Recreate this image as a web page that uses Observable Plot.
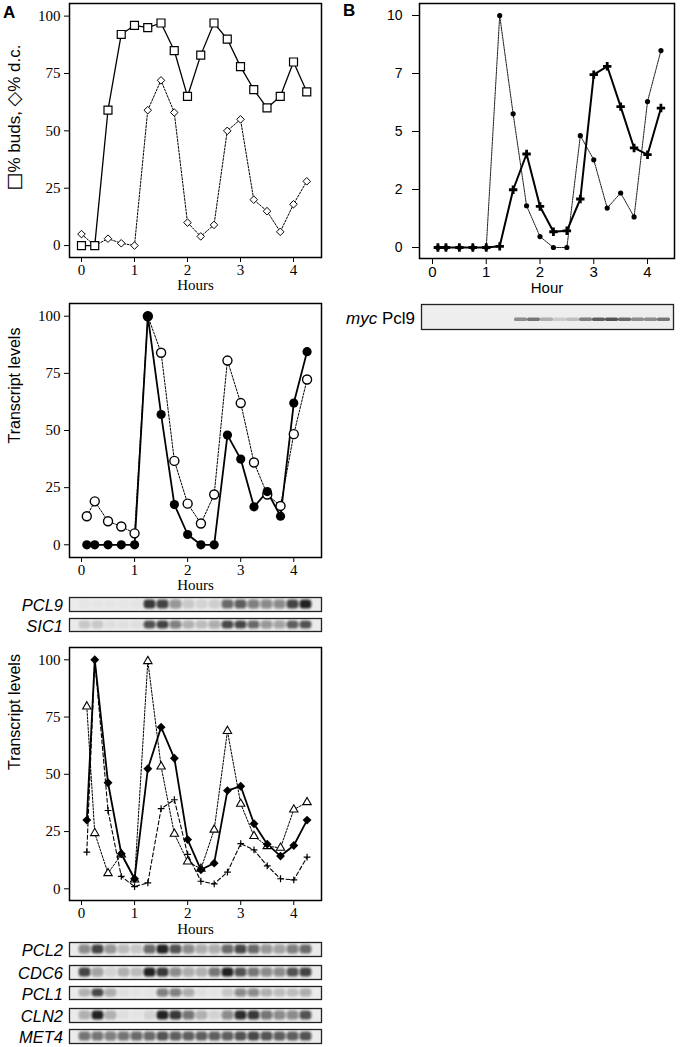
<!DOCTYPE html>
<html><head><meta charset="utf-8">
<script src="https://cdn.jsdelivr.net/npm/d3@7"></script>
<script src="https://cdn.jsdelivr.net/npm/@observablehq/plot@0.6"></script>
<style>
body{margin:0;background:#fff;}
#fig{position:relative;width:684px;height:1047px;overflow:hidden;background:#fff;}
.lab{position:absolute;font-family:"Liberation Sans",Arial,Helvetica,sans-serif;color:#000;white-space:nowrap;line-height:1;}
.sym{font-family:"DejaVu Sans",sans-serif;font-size:19px;}
</style></head><body><div id="fig"></div>
<script>
// ---------- data ----------
const hoursBud = [0,0.25,0.5,0.75,1,1.25,1.5,1.75,2,2.25,2.5,2.75,3,3.25,3.5,3.75,4,4.25];
const hoursT   = [0.1,0.25,0.5,0.75,1,1.25,1.5,1.75,2,2.25,2.5,2.75,3,3.25,3.5,3.75,4,4.25];
const hourTicks = [0,1,2,3,4];
const pctTicks = [0,25,50,75,100];

const budsPct = [0,0,59,92,96,95,97,85,65,83,97,90,78,68,60,65,80,67];
const dcPct   = [5,0,3,1,0,59,72,58,10,4,9,50,55,20,15,6,18,28];

const pcl9Level = [0,0,0,0,0,100,57,17.6,4.5,0,0,48,37.5,16.6,23.3,12.5,62,84.5];   // filled circles
const sic1Level = [12.5,19,10.3,8,5,100,84,36.7,18,9.3,22,80.6,62,36,22,17,48.4,72.3]; // open circles

const diamondLevel  = [30,100,46.3,15.3,4.4,52.4,70.6,57,21.5,8.3,11.2,42.9,44.8,28.4,19.5,14.3,18.9,30];
const triangleLevel = [79.6,24.3,6.8,15,4,99.4,53.4,24,11.9,8.7,25.8,68.9,37.1,23,18.6,17.9,34.6,37.8];
const crossLevel    = [16,100,34.2,5.4,1,2.6,35,38.9,15,3.3,2.2,7.3,19.7,17,10,4.4,3.9,13.8];

const bTicks = [0,2.5,5,7.5,10];
const bTickLabels = ["0","2","5","7","10"];
const mycProtein = [0,0,0,0,0,0.05,2.49,4.03,1.77,0.68,0.72,2.09,7.45,7.81,6.07,4.29,4.0,6.01];
const pcl9mRNA   = [0,0,0,0,0,10,5.76,1.8,0.47,0,0,4.82,3.78,1.7,2.35,1.32,6.29,8.49];

// blot band intensities (18 lanes, 0..1)
const lanes = d3.range(1,19);
const blotPCL9 = [0.02,0.02,0.02,0.02,0.03,0.85,0.8,0.4,0.15,0.1,0.12,0.6,0.65,0.5,0.45,0.45,0.8,0.95];
const blotSIC1 = [0.15,0.15,0.05,0.05,0.05,0.7,0.8,0.5,0.25,0.2,0.3,0.75,0.75,0.6,0.4,0.35,0.65,0.7];
const blotPCL2 = [0.45,0.8,0.4,0.2,0.15,0.6,0.95,0.7,0.45,0.3,0.3,0.6,0.75,0.6,0.4,0.35,0.5,0.6];
const blotCDC6 = [0.8,0.35,0.1,0.25,0.2,0.95,0.85,0.45,0.3,0.25,0.55,0.95,0.7,0.55,0.45,0.45,0.7,0.8];
const blotPCL1 = [0.25,0.75,0.3,0.05,0.03,0.03,0.5,0.5,0.3,0.05,0.03,0.15,0.45,0.45,0.25,0.2,0.2,0.3];
const blotCLN2 = [0.25,0.95,0.25,0.05,0.03,0.1,0.95,0.85,0.55,0.25,0.1,0.45,0.9,0.85,0.55,0.45,0.45,0.7];
const blotMET4 = [0.55,0.55,0.5,0.55,0.6,0.6,0.7,0.65,0.65,0.65,0.65,0.65,0.7,0.75,0.7,0.65,0.65,0.7];
const blotMyc  = [0,0,0,0,0,0,0.45,0.55,0.3,0.15,0.2,0.5,0.65,0.7,0.6,0.45,0.45,0.55];

// ---------- helpers ----------
const fig = document.getElementById("fig");
const serif = "'Liberation Serif','Times New Roman',Times,serif";
const sans = "'Liberation Sans',Arial,Helvetica,'DejaVu Sans',sans-serif";
const intFmt = d3.format("d");
function place(el, left, top){ el.style.position="absolute"; el.style.left=left+"px"; el.style.top=top+"px"; fig.appendChild(el); }
function series(hours, vals){ return hours.map((h,i)=>({h, v: vals[i]})); }
const plus = {draw(ctx, size){ const r=Math.sqrt(size/Math.PI); ctx.moveTo(-r,0); ctx.lineTo(r,0); ctx.moveTo(0,-r); ctx.lineTo(0,r); }};
function label(html, {left, top, right, size=16, italic=false, bold=false}){
  const d=document.createElement("div"); d.className="lab"; d.innerHTML=html;
  d.style.fontSize=size+"px"; if(italic) d.style.fontStyle="italic"; if(bold) d.style.fontWeight="bold";
  d.style.top=top+"px";
  if(right!==undefined){ d.style.right=(684-right)+"px"; d.style.textAlign="right"; } else d.style.left=left+"px";
  fig.appendChild(d);
  return d;
}
function vlabel(html, cx, cy, size){
  const d=label(html, {left:0, top:0, size});
  const w=d.offsetWidth, h=d.offsetHeight;
  d.style.left=(cx-w/2)+"px"; d.style.top=(cy-h/2)+"px";
  d.style.transform="rotate(-90deg)"; d.style.transformOrigin="50% 50%";
}
let blurId=0;
function blot(vals, left, top, width, height, opt={}){
  const {insetL=5.5, insetR=5.5, bandTop=2.5, bandBottom=2.5, bandLR=0.6, rx=3.5, blur=0.9, bg="#ebebeb"} = opt;
  const svg = Plot.plot({
    width, height, margin:0,
    x:{type:"band", domain:lanes, padding:0, insetLeft:insetL, insetRight:insetR, axis:null},
    opacity:{type:"identity"},
    style:{background:"transparent", overflow:"visible"},
    marks:[
      Plot.frame({fill:bg, stroke:null}),
      Plot.cell(lanes.map((l,i)=>({l, v:vals[i]})), {x:"l", fill:"#151515", fillOpacity:"v",
        insetTop:bandTop, insetBottom:bandBottom, insetLeft:bandLR, insetRight:bandLR, rx}),
      Plot.frame({stroke:"#222", strokeWidth:1.3})
    ]
  });
  const id="bl"+(blurId++);
  const s=d3.select(svg);
  s.insert("defs",":first-child").append("filter").attr("id",id)
    .attr("x","-20%").attr("y","-50%").attr("width","140%").attr("height","200%")
    .append("feGaussianBlur").attr("stdDeviation",blur);
  s.selectAll('g[aria-label="cell"]').attr("filter",`url(#${id})`);
  place(svg, left, top);
}

// ---------- Panel A top: budding ----------
const buds = series(hoursBud, budsPct), dc = series(hoursBud, dcPct);
place(Plot.plot({
  width:330, height:300, marginLeft:69, marginRight:9, marginTop:3, marginBottom:43,
  x:{domain:[-0.226,4.528]}, y:{domain:[-5.2,105.5]},
  style:{fontFamily:serif, fontSize:"15px", color:"#000", background:"transparent", overflow:"visible"},
  marks:[
    Plot.axisX({ticks:hourTicks, tickFormat:intFmt, tickSize:5, tickPadding:2, label:null}),
    Plot.axisY({ticks:pctTicks, tickFormat:intFmt, tickSize:5, tickPadding:4, label:null}),
    Plot.line(dc, {x:"h", y:"v", stroke:"#000", strokeWidth:1, strokeDasharray:"2,1.5"}),
    Plot.line(buds, {x:"h", y:"v", stroke:"#000", strokeWidth:1.3}),
    Plot.dot(dc, {x:"h", y:"v", symbol:"diamond2", r:3.4, fill:"white", stroke:"#000", strokeWidth:1}),
    Plot.dot(buds, {x:"h", y:"v", symbol:"square", r:4.5, fill:"white", stroke:"#000", strokeWidth:1.2}),
    Plot.frame({stroke:"#000", strokeWidth:1.5}),
    Plot.text(["Hours"], {text:d=>d, frameAnchor:"bottom", dy:32, fontSize:15})
  ]
}), 0, 0);
vlabel('<span class="sym">\u25A1</span>% buds, <span class="sym">\u25C7</span>% d.c.', 14, 117, 17);

// ---------- Panel B ----------
const bTickMap = new Map(bTicks.map((t,i)=>[t,bTickLabels[i]]));
const prot = series(hoursT, mycProtein), mrna = series(hoursT, pcl9mRNA);
place(Plot.plot({
  width:344, height:300, marginLeft:79, marginRight:10, marginTop:3, marginBottom:42,
  x:{domain:[-0.242,4.502]}, y:{domain:[-0.474,10.517]},
  style:{fontFamily:sans, fontSize:"15px", color:"#000", background:"transparent", overflow:"visible"},
  marks:[
    Plot.axisX({ticks:hourTicks, tickFormat:intFmt, tickSize:6, tickPadding:2, label:null, fontSize:15}),
    Plot.axisY({ticks:bTicks, tickFormat:d=>bTickMap.get(d), tickSize:7, tickPadding:10, label:null, fontSize:14}),
    Plot.line(mrna, {x:"h", y:"v", stroke:"#000", strokeWidth:0.9, strokeDasharray:"1.5,1"}),
    Plot.line(prot, {x:"h", y:"v", stroke:"#000", strokeWidth:2}),
    Plot.dot(mrna, {x:"h", y:"v", r:2.6, fill:"#000", stroke:null}),
    Plot.dot(prot, {x:"h", y:"v", symbol:plus, r:4.2, fill:"none", stroke:"#000", strokeWidth:2.8}),
    Plot.frame({stroke:"#000", strokeWidth:1.5}),
    Plot.text(["Hour"], {text:d=>d, frameAnchor:"bottom", dy:34, fontSize:15})
  ]
}), 340, 0);

// ---------- Panel A middle ----------
const pcl9 = series(hoursT, pcl9Level), sic1 = series(hoursT, sic1Level);
place(Plot.plot({
  width:330, height:295, marginLeft:69, marginRight:9, marginTop:3, marginBottom:38,
  x:{domain:[-0.226,4.522]}, y:{domain:[-5.56,105.56]},
  style:{fontFamily:serif, fontSize:"15px", color:"#000", background:"transparent", overflow:"visible"},
  marks:[
    Plot.axisX({ticks:hourTicks, tickFormat:intFmt, tickSize:5, tickPadding:2, label:null}),
    Plot.axisY({ticks:pctTicks, tickFormat:intFmt, tickSize:5, tickPadding:4, label:null}),
    Plot.line(sic1, {x:"h", y:"v", stroke:"#000", strokeWidth:1, strokeDasharray:"2,1.5"}),
    Plot.line(pcl9, {x:"h", y:"v", stroke:"#000", strokeWidth:1.8}),
    Plot.dot(sic1, {x:"h", y:"v", r:4.5, fill:"white", stroke:"#000", strokeWidth:1.4}),
    Plot.dot(pcl9, {x:"h", y:"v", r:4.6, fill:"#000", stroke:null}),
    Plot.frame({stroke:"#000", strokeWidth:1.5}),
    Plot.text(["Hours"], {text:d=>d, frameAnchor:"bottom", dy:32, fontSize:15}),
    Plot.text(["Transcript levels"], {text:d=>d, frameAnchor:"left", dx:-55, dy:13, rotate:-90, fontFamily:sans, fontSize:16})
  ]
}), 0, 300);

// ---------- Panel A bottom ----------
const dia = series(hoursT, diamondLevel), tri = series(hoursT, triangleLevel), crs = series(hoursT, crossLevel);
place(Plot.plot({
  width:330, height:295, marginLeft:69, marginRight:9, marginTop:3, marginBottom:39,
  x:{domain:[-0.226,4.522]}, y:{domain:[-5.1,105.37]},
  style:{fontFamily:serif, fontSize:"15px", color:"#000", background:"transparent", overflow:"visible"},
  marks:[
    Plot.axisX({ticks:hourTicks, tickFormat:intFmt, tickSize:5, tickPadding:2, label:null}),
    Plot.axisY({ticks:pctTicks, tickFormat:intFmt, tickSize:5, tickPadding:4, label:null}),
    Plot.line(crs, {x:"h", y:"v", stroke:"#000", strokeWidth:1.1, strokeDasharray:"4,2.5"}),
    Plot.line(tri, {x:"h", y:"v", stroke:"#000", strokeWidth:1, strokeDasharray:"2,1.5"}),
    Plot.line(dia, {x:"h", y:"v", stroke:"#000", strokeWidth:1.8}),
    Plot.dot(crs, {x:"h", y:"v", symbol:plus, r:3.4, fill:"none", stroke:"#000", strokeWidth:1.2}),
    Plot.dot(tri, {x:"h", y:"v", symbol:"triangle", r:3.1, fill:"white", stroke:"#000", strokeWidth:1.1}),
    Plot.dot(dia, {x:"h", y:"v", symbol:"diamond2", r:4, fill:"#000", stroke:null}),
    Plot.frame({stroke:"#000", strokeWidth:1.5}),
    Plot.text(["Hours"], {text:d=>d, frameAnchor:"bottom", dy:33, fontSize:15}),
    Plot.text(["Transcript levels"], {text:d=>d, frameAnchor:"left", dx:-55, dy:-4, rotate:-90, fontFamily:sans, fontSize:16})
  ]
}), 0, 644);

// ---------- blots ----------
blot(blotPCL9, 69, 597, 252, 14);
blot(blotSIC1, 69, 618, 252, 13);
blot(blotPCL2, 69, 942, 252, 14);
blot(blotCDC6, 69, 965, 252, 14);
blot(blotPCL1, 69, 986, 252, 13);
blot(blotCLN2, 69, 1008, 252, 14);
blot(blotMET4, 69, 1029, 252, 14);
blot(blotMyc, 421, 304, 252, 25, {insetL:12.6, insetR:0, bandTop:13.5, bandBottom:8, bandLR:0, rx:1.5, blur:0.7, bg:"#eeeeee"});

// ---------- labels ----------
label("A", {left:3, top:4, size:17, bold:true});
label("B", {left:343, top:2, size:17, bold:true});
label("<i>myc</i> Pcl9", {right:415, top:310, size:17});
const gl = [["PCL9",597,14],["SIC1",618,13],["PCL2",942,14],["CDC6",965,14],["PCL1",986,13],["CLN2",1008,14],["MET4",1029,14]];
gl.forEach(([t,y,h])=>label(t, {right:63, top:y+h/2-7, size:16.5, italic:true}));
</script></body></html>
